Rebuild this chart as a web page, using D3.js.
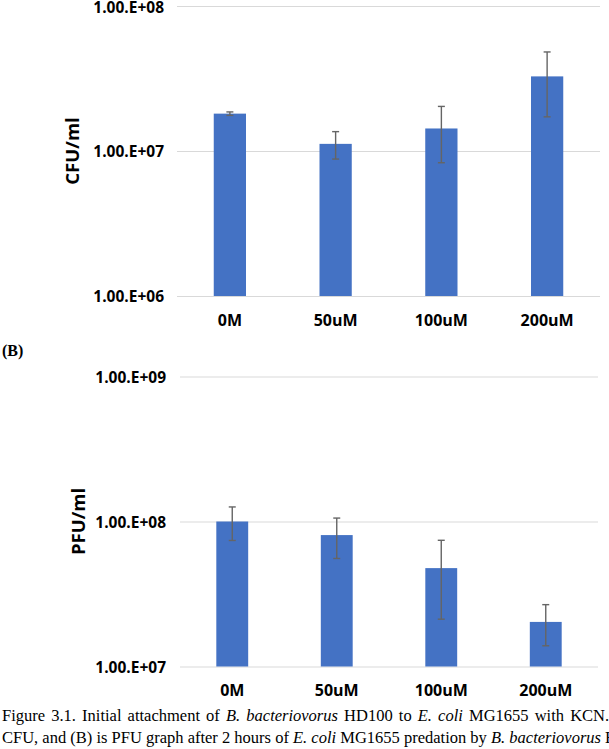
<!DOCTYPE html>
<html>
<head>
<meta charset="utf-8">
<script src="https://cdn.jsdelivr.net/npm/d3@7"></script>
<style>
  body { margin: 0; background: #fff; overflow: hidden; }
  svg { display: block; }
</style>
</head>
<body>
<svg id="fig" width="609" height="749"></svg>
<script>
// concentrations of KCN
var categories = ["0M", "50uM", "100uM", "200uM"];
// (A) CFU/ml, mean and error
var cfuMean = [1.81e7, 1.12e7, 1.43e7, 3.27e7];
var cfuErr = [5e5, 2.4e6, 6.0e6, 1.55e7];
// (B) PFU/ml, mean and error
var pfuMean = [1.0e8, 8.06e7, 4.77e7, 2.03e7];
var pfuErr = [2.6e7, 2.5e7, 2.65e7, 6.4e6];
var cfuTicks = [1e6, 1e7, 1e8];
var pfuTicks = [1e7, 1e8, 1e9];

var svg = d3.select("#fig");
var labelFont = "'Open Sans', 'Noto Sans', sans-serif";
var fmt = d => "1.00.E+" + String(Math.round(Math.log10(d))).padStart(2, "0");

function drawChart(cfg, means, errs, ticks, title) {
  var x = d3.scaleBand().domain(categories).range([cfg.x0, cfg.x1]).padding(0);
  var y = d3.scaleLog().domain([ticks[0], ticks[ticks.length - 1]]).range([cfg.yb, cfg.yt]);
  var g = svg.append("g");

  // gridlines + y labels
  var ya = g.append("g").attr("transform", "translate(" + cfg.x0 + ",0)")
    .call(d3.axisLeft(y).tickValues(ticks).tickSize(-(cfg.x1 - cfg.x0)).tickPadding(cfg.ypad).tickFormat(fmt));
  ya.select(".domain").remove();
  ya.selectAll("line").attr("stroke", "#d9d9d9").attr("stroke-width", 1);
  ya.selectAll("text").attr("font-family", labelFont).attr("font-weight", 700)
    .attr("font-size", 15.5).attr("fill", "#000")
    .attr("dy", d => (y(d) < 12 ? "0.45em" : "0.36em")); // keep the top label inside the page

  // bars
  var bw = x.bandwidth() * 0.305;
  var rows = categories.map((c, i) => ({ cat: c, v: means[i], e: errs[i] }));
  g.selectAll(".bar").data(rows).join("rect").attr("class", "bar")
    .attr("x", d => x(d.cat) + x.bandwidth() / 2 - bw / 2)
    .attr("width", bw)
    .attr("y", d => y(d.v))
    .attr("height", d => cfg.yb - y(d.v))
    .attr("fill", "#4472c4");

  // error bars
  var eb = g.selectAll(".err").data(rows).join("g").attr("class", "err")
    .attr("transform", d => "translate(" + (x(d.cat) + x.bandwidth() / 2) + ",0)")
    .attr("stroke", "#656565").attr("stroke-width", 1.4);
  eb.append("line").attr("y1", d => y(d.v + d.e)).attr("y2", d => y(d.v - d.e));
  eb.append("line").attr("x1", -3.5).attr("x2", 3.5).attr("y1", d => y(d.v + d.e)).attr("y2", d => y(d.v + d.e));
  eb.append("line").attr("x1", -3.5).attr("x2", 3.5).attr("y1", d => y(d.v - d.e)).attr("y2", d => y(d.v - d.e));

  // x labels
  var xa = g.append("g").attr("transform", "translate(0," + cfg.yb + ")")
    .call(d3.axisBottom(x).tickSize(0).tickPadding(cfg.xpad));
  xa.select(".domain").remove();
  xa.selectAll("text").attr("font-family", labelFont).attr("font-weight", 700)
    .attr("font-size", 16).attr("fill", "#000");

  // y title
  g.append("text").attr("transform", "translate(" + cfg.tx + "," + ((cfg.yt + cfg.yb) / 2) + ") rotate(-90)")
    .attr("text-anchor", "middle").attr("dy", "0.35em")
    .attr("font-family", labelFont).attr("font-weight", 700).attr("font-size", 18.5)
    .text(title);
}

drawChart({ x0: 177, x1: 600, yt: 6, yb: 296, xpad: 19, ypad: 13, tx: 73 }, cfuMean, cfuErr, cfuTicks, "CFU/ml");
drawChart({ x0: 180, x1: 598, yt: 376.5, yb: 666.5, xpad: 18, ypad: 14, tx: 79 }, pfuMean, pfuErr, pfuTicks, "PFU/ml");

// panel label
svg.append("text").attr("x", 2).attr("y", 356).attr("font-family", "'Liberation Serif', serif")
  .attr("font-weight", 700).attr("font-size", 16).text("(B)");

// caption (line 1 is justified in the source, so it gets extra word spacing)
var captionLines = [
  [["Figure 3.1. Initial attachment of ", 0], ["B. bacteriovorus", 1], [" HD100 to ", 0], ["E. coli", 1], [" MG1655 with KCN.", 0]],
  [["CFU, and (B) is PFU graph after 2 hours of ", 0], ["E. coli", 1], [" MG1655 predation by ", 0], ["B. bacteriovorus", 1], [" HD100.", 0]]
];
var wordSpacing = [2, 0];
var cap = svg.append("g").attr("font-family", "'Liberation Serif', 'Times New Roman', serif").attr("font-size", 16.5);
captionLines.forEach((line, i) => {
  var t = cap.append("text").attr("x", 2).attr("y", 721 + i * 22).attr("word-spacing", wordSpacing[i]);
  t.selectAll("tspan").data(line).join("tspan")
    .attr("font-style", d => d[1] ? "italic" : "normal").text(d => d[0]);
});
</script>
</body>
</html>
